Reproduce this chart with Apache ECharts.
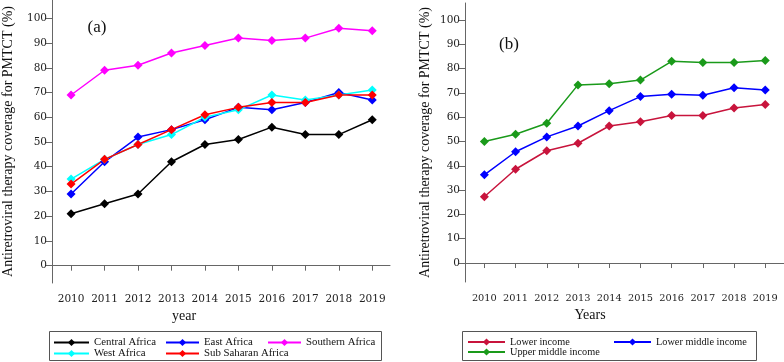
<!DOCTYPE html>
<html lang="en" style="height: 100%">
<head>
  <meta charset="utf-8" />
  <title>ART coverage for PMTCT</title>
</head>
<body style="height: 100%; margin: 0; background: #fff">
  <div id="container" style="width: 784px; height: 362px"></div>

  <script src="https://cdn.jsdelivr.net/npm/echarts@6/dist/echarts.min.js"></script>

  <script>
    // data
    var years = [2010, 2011, 2012, 2013, 2014, 2015, 2016, 2017, 2018, 2019];
    var yTicks = [0, 10, 20, 30, 40, 50, 60, 70, 80, 90, 100];

    // panel (a) - regions
    var centralAfrica = [21, 25, 29, 42, 49, 51, 56, 53, 53, 59];
    var eastAfrica = [29, 42, 52, 55, 59, 64, 63, 66, 70, 67];
    var southernAfrica = [69, 79, 81, 86, 89, 92, 91, 92, 96, 95];
    var westAfrica = [35, 43, 49, 53, 60, 63, 69, 67, 69, 71];
    var subSaharan = [33, 43, 49, 55, 61, 64, 66, 66, 69, 69];

    // panel (b) - income groups
    var lowerIncome = [27.3, 38.6, 46.2, 49.3, 56.4, 58.1, 60.7, 60.7, 63.8, 65.2];
    var lowerMiddle = [36.3, 45.8, 51.9, 56.4, 62.7, 68.5, 69.5, 69.0, 72.1, 71.2];
    var upperMiddle = [50.0, 53.0, 57.5, 73.3, 73.8, 75.3, 83.0, 82.5, 82.5, 83.3];

    var serif = 'Liberation Serif';
    var tickFont = 'DejaVu Serif';
    var axisGrey = '#666';

    function pairs(vals) {
      return years.map(function (y, i) { return [y, vals[i]]; });
    }

    function line(name, vals, color, idx) {
      return {
        name: name,
        type: 'line',
        xAxisIndex: idx,
        yAxisIndex: idx,
        data: pairs(vals),
        symbol: 'diamond',
        symbolSize: 9,
        lineStyle: { color: color, width: 1.5 },
        itemStyle: { color: color },
        animation: false
      };
    }

    function xAxis(idx, min, max, size) {
      return {
        type: 'value',
        gridIndex: idx,
        min: min,
        max: max,
        splitLine: { show: false },
        axisLine: { show: true, lineStyle: { color: axisGrey, width: 1 } },
        axisTick: { show: true, customValues: years, length: 5, lineStyle: { color: axisGrey } },
        axisLabel: {
          customValues: years,
          formatter: function (v) { return String(v); },
          margin: 11,
          color: '#222',
          fontFamily: tickFont,
          fontSize: size
        }
      };
    }

    function yAxis(idx, min, max, gap) {
      return {
        type: 'value',
        gridIndex: idx,
        min: min,
        max: max,
        splitLine: { show: false },
        axisLine: { show: true, lineStyle: { color: axisGrey, width: 1 } },
        axisTick: { show: true, customValues: yTicks, length: 6, lineStyle: { color: axisGrey } },
        axisLabel: {
          customValues: yTicks,
          margin: 5,
          color: '#222',
          fontFamily: tickFont,
          fontSize: 10.5
        },
        name: 'Antiretroviral therapy coverage for PMTCT (%)',
        nameLocation: 'middle',
        nameGap: gap,
        nameTextStyle: { fontFamily: serif, fontSize: 14, color: '#111' }
      };
    }

    function legendCol(names, left, w, size) {
      return {
        data: names,
        orient: 'vertical',
        left: left,
        top: 337,
        padding: 0,
        itemWidth: w,
        itemHeight: 9,
        itemGap: 0,
        selectedMode: false,
        textStyle: { fontFamily: serif, fontSize: size, lineHeight: 10, color: '#111' }
      };
    }

    var dom = document.getElementById('container');
    var myChart = echarts.init(dom);

    var option = {
      animation: false,
      grid: [
        { left: 50, top: 0, width: 340, height: 283 },
        { left: 465, top: 3, width: 319, height: 279 }
      ],
      xAxis: [
        xAxis(0, 2009.43, 2019.53, 10.5),
        xAxis(1, 2009.38, 2019.6, 9.8)
      ],
      yAxis: [
        yAxis(0, -7.0, 107.4, 37),
        yAxis(1, -7.8, 107.0, 33)
      ],
      legend: [
        legendCol(['Central Africa', 'West Africa'], 53, 35, 10.8),
        legendCol(['East Africa', 'Sub Saharan Africa'], 165, 33, 10.8),
        legendCol(['Southern Africa'], 267, 33, 10.8),
        legendCol(['Lower income', 'Upper middle income'], 467, 37, 10.3),
        legendCol(['Lower middle income'], 613, 37, 10.3)
      ],
      graphic: [
        { type: 'text', x: 97, y: 27.5, style: { text: '(a)', fontFamily: serif, fontSize: 17, fill: '#111', align: 'center', verticalAlign: 'middle' } },
        { type: 'text', x: 509, y: 44.5, style: { text: '(b)', fontFamily: serif, fontSize: 17, fill: '#111', align: 'center', verticalAlign: 'middle' } },
        { type: 'text', x: 184, y: 316, style: { text: 'year', fontFamily: serif, fontSize: 14, fill: '#111', align: 'center', verticalAlign: 'middle' } },
        { type: 'text', x: 590, y: 315, style: { text: 'Years', fontFamily: serif, fontSize: 14, fill: '#111', align: 'center', verticalAlign: 'middle' } },
        { type: 'rect', shape: { x: 49.5, y: 331.5, width: 332, height: 29 }, style: { fill: 'none', stroke: '#555', lineWidth: 1 } },
        { type: 'rect', shape: { x: 462.5, y: 331.5, width: 294, height: 29 }, style: { fill: 'none', stroke: '#555', lineWidth: 1 } }
      ],
      series: [
        line('Central Africa', centralAfrica, '#000000', 0),
        line('East Africa', eastAfrica, '#0000ff', 0),
        line('Southern Africa', southernAfrica, '#ff00ff', 0),
        line('West Africa', westAfrica, '#00ffff', 0),
        line('Sub Saharan Africa', subSaharan, '#ff0000', 0),
        line('Lower income', lowerIncome, '#c8143c', 1),
        line('Lower middle income', lowerMiddle, '#0000ff', 1),
        line('Upper middle income', upperMiddle, '#1a9a1a', 1)
      ]
    };

    myChart.setOption(option);

    window.onresize = function () {
      myChart.resize();
    };
  </script>
</body>
</html>
